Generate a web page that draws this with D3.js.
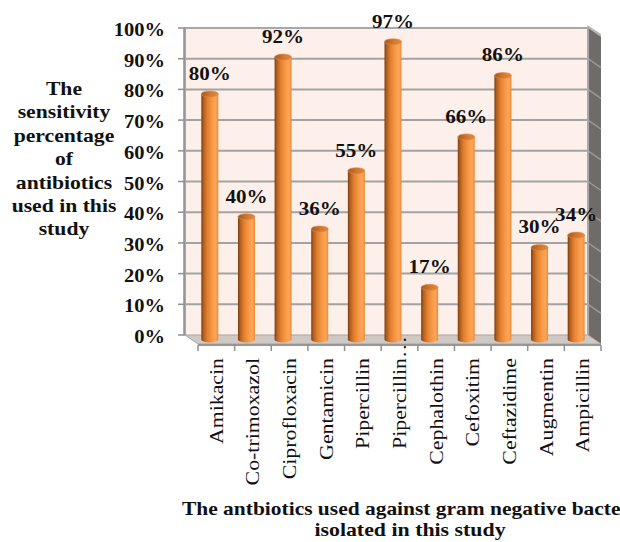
<!DOCTYPE html>
<html>
<head>
<meta charset="utf-8">
<script src="https://cdn.jsdelivr.net/npm/d3@7"></script>
<style>
  html, body { margin: 0; padding: 0; background: #ffffff; }
  svg { display: block; }
  svg text { font-family: "Times New Roman", Tinos, "Liberation Serif", Times, "Nimbus Roman", serif; fill: #111; }
</style>
</head>
<body>
<svg id="chart" width="620" height="542"></svg>
<script>
// Antibiotic sensitivity (%) against gram negative isolates
const categories = ["Amikacin", "Co-trimoxazol", "Ciprofloxacin", "Gentamicin", "Pipercillin",
  "Pipercillin…", "Cephalothin", "Cefoxitim", "Ceftazidime", "Augmentin", "Ampicillin"];
const sensitivity = [80, 40, 92, 36, 55, 97, 17, 66, 86, 30, 34];
const valueTicks = [0, 10, 20, 30, 40, 50, 60, 70, 80, 90, 100];
const yTitleLines = ["The", "sensitivity", "percentage", "of", "antibiotics", "used in this", "study"];
const xTitleLines = ["The  antbiotics used against gram negative bacteria", "isolated in this study"];

const svg = d3.select("#chart");

// back wall extent and 3-D depth offset of the floor/side wall
const wall = { left: 185, right: 588, top: 28, bottom: 335 };
const DX = 13, DY = 9;

const x = d3.scaleBand().domain(categories).range([wall.left, wall.right]);
const y = d3.scaleLinear().domain([0, 100]).range([wall.bottom, wall.top]);

// stretch text along its own direction
function widen(sel, k) {
  sel.each(function () {
    const L = this.getComputedTextLength();
    this.setAttribute("textLength", (L * k).toFixed(1));
    this.setAttribute("lengthAdjust", "spacingAndGlyphs");
  });
}

const defs = svg.append("defs");
const barGrad = defs.append("linearGradient").attr("id", "barGrad")
  .attr("x1", 0).attr("x2", 1).attr("y1", 0).attr("y2", 0);
[[0, "#7a3c10"], [0.12, "#b05c1c"], [0.35, "#e17f2f"], [0.65, "#f99a47"], [0.85, "#fca658"], [1, "#ec8838"]]
  .forEach(([o, c]) => barGrad.append("stop").attr("offset", o).attr("stop-color", c));
const capGrad = defs.append("linearGradient").attr("id", "capGrad")
  .attr("x1", 0).attr("x2", 1).attr("y1", 0).attr("y2", 0);
[[0, "#a55a1e"], [0.5, "#cf7630"], [1, "#e48a3e"]]
  .forEach(([o, c]) => capGrad.append("stop").attr("offset", o).attr("stop-color", c));

// back wall
svg.append("rect")
  .attr("x", wall.left).attr("y", wall.top)
  .attr("width", wall.right - wall.left).attr("height", wall.bottom - wall.top)
  .attr("fill", "#fdf0ea");

// side wall on the right
svg.append("path")
  .attr("d", `M${wall.right},${wall.top - 1} L${wall.right + DX},${wall.top + DY - 1} L${wall.right + DX},${wall.bottom + DY} L${wall.right},${wall.bottom} Z`)
  .attr("fill", "#6e6b68");
svg.append("path")
  .attr("d", `M${wall.right - 1},${wall.top - 3} L${wall.right + DX},${wall.top + DY - 3} L${wall.right + DX},${wall.top + DY} L${wall.right},${wall.top} Z`)
  .attr("fill", "#b5b2af");

// gridlines on back wall and side wall
svg.append("g").selectAll("line").data(valueTicks.slice(1)).join("line")
  .attr("x1", wall.left).attr("x2", wall.right)
  .attr("y1", d => y(d)).attr("y2", d => y(d))
  .attr("stroke", "#a3a3a3").attr("stroke-width", 2);
svg.append("g").selectAll("line").data(valueTicks.slice(1, -1)).join("line")
  .attr("x1", wall.right).attr("x2", wall.right + DX)
  .attr("y1", d => y(d)).attr("y2", d => y(d) + DY)
  .attr("stroke", "#9c9996").attr("stroke-width", 1.5);

// wall outline
svg.append("path")
  .attr("d", `M${wall.left},${wall.bottom} L${wall.left},${wall.top} L${wall.right},${wall.top} L${wall.right},${wall.bottom}`)
  .attr("fill", "none").attr("stroke", "#a8a8a8").attr("stroke-width", 2);

// floor
svg.append("path")
  .attr("d", `M${wall.left},${wall.bottom} L${wall.right},${wall.bottom} L${wall.right + DX},${wall.bottom + DY} L${wall.left + DX},${wall.bottom + DY} Z`)
  .attr("fill", "#cfc9c5").attr("stroke", "#aaa5a1").attr("stroke-width", 1);
svg.append("rect")
  .attr("x", wall.left + DX).attr("y", wall.bottom + DY)
  .attr("width", wall.right - wall.left).attr("height", 2)
  .attr("fill", "#b3aeaa");

// value axis with tick marks
svg.append("line")
  .attr("x1", wall.left - 1).attr("x2", wall.left - 1)
  .attr("y1", y(100)).attr("y2", y(0))
  .attr("stroke", "#8f8f8f").attr("stroke-width", 1.5);
svg.append("g").selectAll("line").data(valueTicks).join("line")
  .attr("x1", wall.left - 7).attr("x2", wall.left)
  .attr("y1", d => y(d)).attr("y2", d => y(d))
  .attr("stroke", "#8f8f8f").attr("stroke-width", 1.5);

const yLabels = svg.append("g").selectAll("text").data(valueTicks).join("text")
  .attr("x", 165).attr("y", d => y(d) + 8)
  .attr("text-anchor", "end")
  .attr("font-size", 19).attr("font-weight", "bold")
  .text(d => d + "%");
widen(yLabels, 1.08);

// category axis along the front edge of the floor
const axisY = wall.bottom + DY + 1;
svg.append("line")
  .attr("x1", wall.left + DX).attr("x2", wall.right + DX)
  .attr("y1", axisY).attr("y2", axisY)
  .attr("stroke", "#8f8f8f").attr("stroke-width", 1.5);
const bounds = categories.map(c => x(c)).concat([wall.right]);
svg.append("g").selectAll("line").data(bounds).join("line")
  .attr("x1", d => d + DX).attr("x2", d => d + DX)
  .attr("y1", axisY).attr("y2", axisY + 6)
  .attr("stroke", "#8f8f8f").attr("stroke-width", 1.5);

// cylinders, standing at mid depth
const bw = 17, ry = 3;
const midX = DX / 2, midY = DY / 2;
const rows = categories.map((c, i) => ({ c, v: sensitivity[i] }));
const bars = svg.append("g").selectAll("g").data(rows).join("g");
bars.append("path")
  .attr("d", d => {
    const cx = x(d.c) + x.bandwidth() / 2 + midX;
    const top = y(d.v) + midY, bot = y(0) + midY;
    const l = cx - bw / 2, r = cx + bw / 2;
    return `M${l},${top} L${l},${bot} A${bw / 2},${ry} 0 0 0 ${r},${bot} L${r},${top} Z`;
  })
  .attr("fill", "url(#barGrad)");
bars.append("ellipse")
  .attr("cx", d => x(d.c) + x.bandwidth() / 2 + midX)
  .attr("cy", d => y(d.v) + midY)
  .attr("rx", bw / 2).attr("ry", ry)
  .attr("fill", "url(#capGrad)").attr("stroke", "#e58c40").attr("stroke-width", 0.6);

// value labels
const valLabels = svg.append("g").selectAll("text").data(rows).join("text")
  .attr("x", d => x(d.c) + x.bandwidth() / 2 + midX)
  .attr("y", d => y(d.v) + midY - 14)
  .attr("text-anchor", "middle")
  .attr("font-size", 19.5).attr("font-weight", "bold")
  .text(d => d.v + "%");
widen(valLabels, 1.08);

// rotated category labels
const catLabels = svg.append("g").selectAll("text").data(categories).join("text")
  .attr("text-anchor", "end")
  .attr("font-size", 19.5)
  .attr("transform", d => `translate(${x(d) + x.bandwidth() / 2 + DX + 6.5},358) rotate(-90)`)
  .text(d => d);
widen(catLabels, 1.12);
// the truncated label keeps its word aligned with the others; the ellipsis runs past the top
catLabels.filter(d => d.endsWith("…")).each(function (d) {
  const n = d.length;
  const full = +this.getAttribute("textLength");
  const natural = this.getSubStringLength(0, n);
  const ell = this.getSubStringLength(n - 1, 1) * (full / natural);
  const t = d3.select(this).attr("transform");
  d3.select(this).attr("transform", t.replace(",358)", `,${(358 - ell).toFixed(1)})`));
});

// value axis title
const yTitle = svg.append("g").selectAll("text").data(yTitleLines).join("text")
  .attr("x", 64).attr("y", (d, i) => 95 + i * 23.4)
  .attr("text-anchor", "middle")
  .attr("font-size", 19).attr("font-weight", "bold")
  .text(d => d);
widen(yTitle, 1.14);

// category axis title
const xt1 = svg.append("text")
  .attr("x", 182).attr("y", 515)
  .attr("font-size", 19.5).attr("font-weight", "bold")
  .text(xTitleLines[0]);
widen(xt1, 1.1);
const xt2 = svg.append("text")
  .attr("x", 410).attr("y", 536)
  .attr("text-anchor", "middle")
  .attr("font-size", 19.5).attr("font-weight", "bold")
  .text(xTitleLines[1]);
widen(xt2, 1.12);
</script>
</body>
</html>
